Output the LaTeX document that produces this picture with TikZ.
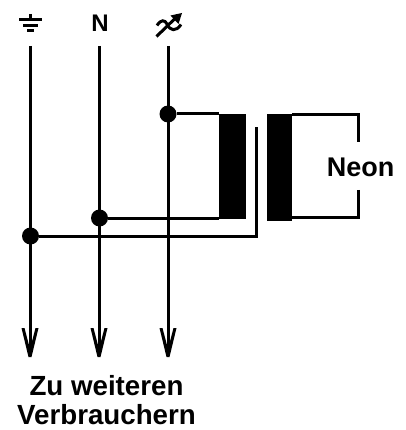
\documentclass[tikz,border=0pt]{standalone}
\usepackage{fontspec}
\setmainfont{Liberation Sans}
\tikzset{
  wire/.style={line width=3pt,black},
  core/.style={fill=black,draw=none},
  dot/.style={circle,fill=black,inner sep=0pt,minimum size=17pt},
  lab/.style={font=\bfseries\fontsize{27}{29}\selectfont,inner sep=0pt,align=center}
}
\begin{document}
\begin{tikzpicture}[x=1pt,y=-1pt]
\useasboundingbox (0,0) rectangle (405,430);
\fill[white] (0,0) rectangle (405,430);
% labels
\node[lab,font=\bfseries\fontsize{24}{28}\selectfont] (n) at (100,23.5) {N};
\node[lab] (neon) at (360.5,167) {Neon};
\node[lab,font=\bfseries\fontsize{27.7}{29}\selectfont] (txt) at (106.5,400) {Zu weiteren\\Verbrauchern};
% ground symbol
\draw[line width=3pt] (30,14) -- (30,20);
\draw[line width=3pt] (19,20) -- (42,20);
\draw[line width=3pt] (23,26) -- (38,26);
\draw[line width=3pt] (27,31) -- (34,31);
% phase symbol
\draw[line width=3pt] (156.5,36.5) -- (175,18.5);
\fill (182,13) -- (170.5,15.5) -- (178.5,24) -- cycle;
\draw[line width=3pt] (157,25.5) .. controls (161,19) and (165,20) .. (167,24) .. controls (170,31) and (176,32) .. (181,24.5);
% dots
\coordinate (tL) at (30,46);
\coordinate (tN) at (99,46);
\coordinate (tP) at (168,46);
\coordinate (bL) at (30,352);
\coordinate (bN) at (99,352);
\coordinate (bP) at (168,352);
\node[dot] (dL) at (30.5,236) {};
\node[dot] (dN) at (99.5,218) {};
\node[dot] (dP) at (168,114) {};
% vertical wires
\foreach \a/\b in {tL/bL,tN/bN,tP/bP}{\draw[wire] (\a) -- (\b);}
\foreach \b in {bL,bN,bP}{
  \fill ([xshift=-8.5pt,yshift=24pt]\b) -- ([xshift=-5.5pt,yshift=24pt]\b) -- ([yshift=3pt]\b) -- ([xshift=5.5pt,yshift=24pt]\b) -- ([xshift=8.5pt,yshift=24pt]\b) -- ([xshift=1.5pt,yshift=-5pt]\b) -- ([xshift=-1.5pt,yshift=-5pt]\b) -- cycle;
}
% cores
\path[core] (219,114) rectangle (246,219);
\path[core] (267,114) rectangle (292,221);
\coordinate (cLt) at (219,114);
\coordinate (cLb) at (219,218);
\coordinate (s1) at (292,114.5);
\coordinate (s2) at (358,114.5);
\coordinate (s3) at (358,142);
\coordinate (s4) at (358,190);
\coordinate (s5) at (358,217.5);
\coordinate (s6) at (292,217.5);
\coordinate (e1) at (256,236);
\coordinate (e2) at (256,127);
\draw[wire] (dP) -- (cLt);
\draw[wire] (dN) -- (cLb);
\draw[wire] (dL) -- (e1) -- (e2);
\draw[wire] (s3) -- (s2) -- (s1);
\draw[wire] (s4) -- (s5) -- (s6);
\end{tikzpicture}
\end{document}
